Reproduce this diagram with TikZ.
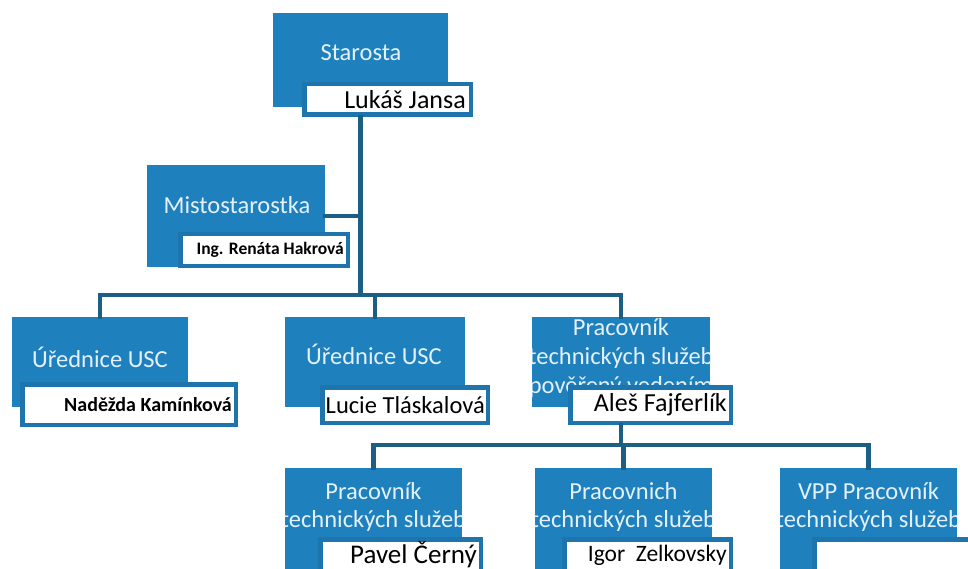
\documentclass[tikz,border=0pt]{standalone}
\usepackage{fontspec}
\setmainfont{Carlito}
\definecolor{boxblue}{HTML}{1F80BE}
\definecolor{edgeblue}{HTML}{1E75AE}
\definecolor{linkblue}{HTML}{1C5E84}
\definecolor{titletext}{HTML}{E4F1FA}
\tikzset{
  titlebox/.style={fill=boxblue, draw=none, inner sep=0pt, text=titletext,
    align=center, font=\fontsize{24.5}{29}\selectfont},
  namebox/.style={fill=white, draw=edgeblue, line width=4.5pt, inner sep=0pt},
  nametext/.style={anchor=east, inner sep=0pt, text=black},
  link/.style={draw=linkblue, line width=4.5pt, line cap=rect}
}
\newcommand{\bluebox}[5]{% name, x1, y1, x2, y2
  \node[titlebox, minimum width={#4-#2}, minimum height={#5-#3}] (#1) at ({(#2+#4)/2},{(#3+#5)/2}) {};}
\newcommand{\whitebox}[5]{% name, x1, y1, x2, y2
  \node[namebox, minimum width={#4-#2-4.5}, minimum height={#5-#3-4.5}] (#1) at ({(#2+#4)/2},{(#3+#5)/2}) {};}
\begin{document}
\begin{tikzpicture}[x=1pt,y=-1pt]
\useasboundingbox (0,0) rectangle (968,569);
\fill[white] (0,0) rectangle (968,569);

% blue boxes
\bluebox{star}{273}{13}{448}{107}
\bluebox{mist}{147}{165}{325}{267}
\bluebox{ua}{12}{317}{188}{407}
\bluebox{ub}{285}{317}{465}{407}
\bluebox{prac}{532}{317}{710}{407}
\bluebox{pa}{285}{468}{462}{590}
\bluebox{pb}{535}{468}{712}{590}
\bluebox{pc}{780}{468}{957}{590}

% titles (clipped to their boxes)
\begin{scope}\clip (273,13) rectangle (448,107);
\node[titlebox, fill=none] (tstar) at (361,53) {Starosta};\end{scope}
\begin{scope}\clip (147,165) rectangle (325,267);
\node[titlebox, fill=none] (tmist) at (237,205) {Mistostarostka};\end{scope}
\begin{scope}\clip (12,317) rectangle (188,407);
\node[titlebox, fill=none] (tua) at (100,357) {Úřednice USC};\end{scope}
\begin{scope}\clip (285,317) rectangle (465,407);
\node[titlebox, fill=none] (tub) at (374,354) {Úřednice USC};\end{scope}
\begin{scope}\clip (532,317) rectangle (710,407);
\node[titlebox, fill=none, font=\fontsize{24.5}{29}\selectfont] (tprac) at (621,357.5) {Pracovník\\technických služeb\\pověřený vedením};\end{scope}
\begin{scope}\clip (285,468) rectangle (462,590);
\node[titlebox, fill=none, font=\fontsize{24.5}{28}\selectfont] (tpa) at (373.5,507) {Pracovník\\technických služeb};\end{scope}
\begin{scope}\clip (535,468) rectangle (712,590);
\node[titlebox, fill=none, font=\fontsize{24.5}{28}\selectfont] (tpb) at (623.5,507) {Pracovnich\\technických služeb};\end{scope}
\begin{scope}\clip (780,468) rectangle (957,590);
\node[titlebox, fill=none, font=\fontsize{24.5}{28}\selectfont] (tpc) at (868.5,507) {VPP Pracovník\\technických služeb};\end{scope}

% name boxes
\whitebox{nstar}{302}{82}{473}{117}
\whitebox{nmist}{178}{232}{350}{268}
\whitebox{nua}{20}{382}{238}{427}
\whitebox{nub}{320}{385}{490}{425}
\whitebox{nprac}{568}{385}{733}{425}
\whitebox{npa}{318}{537}{483}{600}
\whitebox{npb}{562}{537}{733}{600}
\whitebox{npc}{812}{537}{975}{600}

% names
\node[nametext, font=\fontsize{26}{30}\selectfont] (lstar) at (466,100) {Lukáš Jansa};
\node[nametext, font=\bfseries\fontsize{17.5}{20}\selectfont] (lmist) at (344,250) {Ing. Renáta Hakrová};
\node[nametext, font=\bfseries\fontsize{20}{22}\selectfont] (lua) at (232,405) {Naděžda Kamínková};
\node[nametext, font=\fontsize{24.5}{28}\selectfont] (lub) at (485,405) {Lucie Tláskalová};
\node[nametext, font=\fontsize{26}{30}\selectfont] (lprac) at (727,405) {Aleš Fajferlík};
\node[nametext, font=\fontsize{27}{30}\selectfont] (lpa) at (477,555) {Pavel Černý};
\node[nametext, font=\fontsize{23.5}{28}\selectfont] (lpb) at (727,555) {Igor\ \ Zelkovsky};

% connectors
\coordinate (barA) at (360.5,295);
\coordinate (barB) at (621,445);
\draw[link] (star.center |- nstar.south) -- (barA);
\draw[link] (mist.east) -- (mist.east -| barA);
\draw[link] (ua.north) |- (barA) -| (prac.north);
\draw[link] (ub.north) -- (ub.north |- barA);
\draw[link] (prac.center |- nprac.south) -- (barB);
\draw[link] (pa.north) |- (barB) -| (pc.north);
\draw[link] (pb.north) -- (pb.north |- barB);
\end{tikzpicture}
\end{document}
